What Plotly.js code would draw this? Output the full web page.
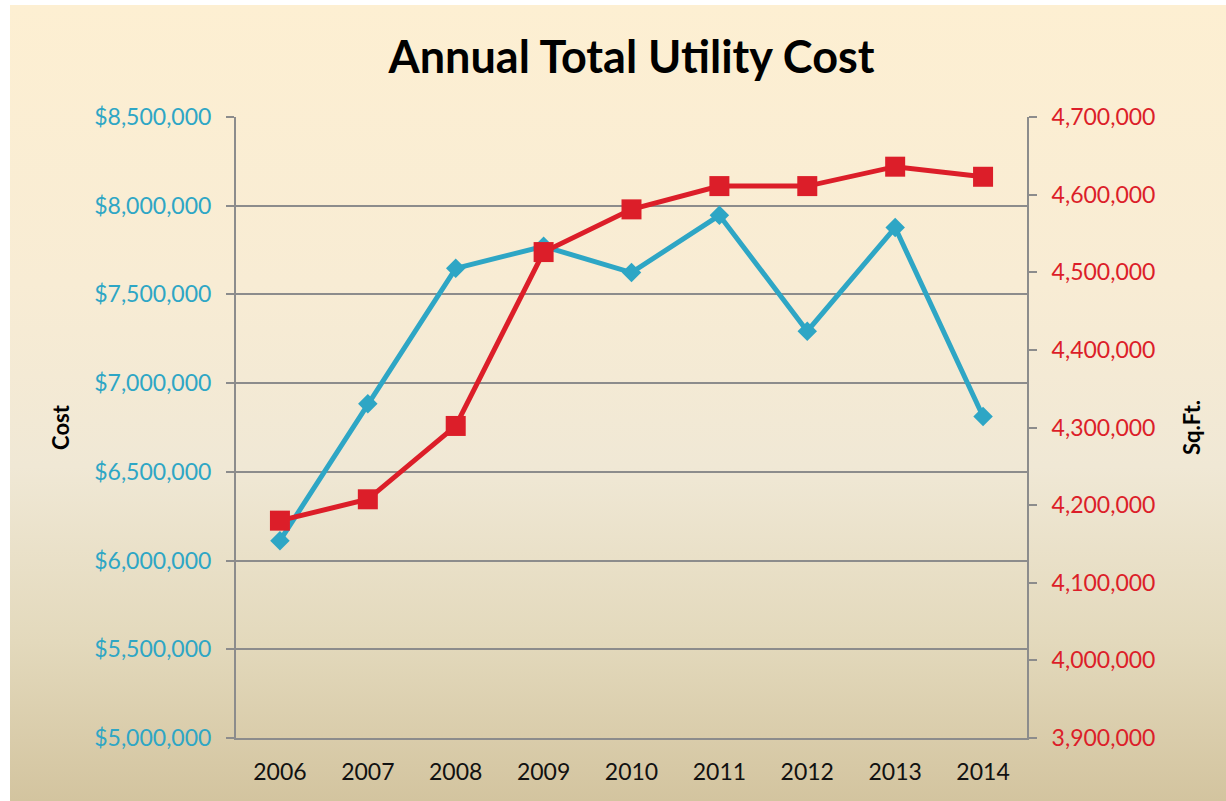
<!DOCTYPE html>
<html>
<head>
<meta charset="utf-8">
<script src="https://cdn.plot.ly/plotly-3.0.1.min.js"></script>
<style>
  html, body { margin: 0; padding: 0; background: #ffffff; }
  #bg { position: absolute; left: 10px; top: 5px; width: 1216px; height: 796px;
        background: linear-gradient(to bottom, #fdefd2 0%, #f8ecd4 35%, #f0e8d5 58%, #e3d9bc 80%, #d3c49f 100%); }
  #chart { position: absolute; left: 0; top: 0; width: 1226px; height: 801px; }
</style>
</head>
<body>
<div id="bg"></div>
<div id="chart"></div>
<script>
const years = ['2006', '2007', '2008', '2009', '2010', '2011', '2012', '2013', '2014'];
const costValues = [6112000, 6884000, 7647000, 7771000, 7623000, 7946000, 7293000, 7877000, 6812000];
const sqftValues = [4180000, 4207500, 4302000, 4526000, 4581000, 4611000, 4611000, 4636000, 4623000];
const costTicks = [5000000, 5500000, 6000000, 6500000, 7000000, 7500000, 8000000, 8500000];
const costTickLabels = ['$5,000,000', '$5,500,000', '$6,000,000', '$6,500,000', '$7,000,000', '$7,500,000', '$8,000,000', '$8,500,000'];
const sqftTicks = [3900000, 4000000, 4100000, 4200000, 4300000, 4400000, 4500000, 4600000, 4700000];
const sqftTickLabels = ['3,900,000', '4,000,000', '4,100,000', '4,200,000', '4,300,000', '4,400,000', '4,500,000', '4,600,000', '4,700,000'];

const blue = '#2ea6c5';
const red = '#dc1e29';
const gray = '#8c8c8c';
const fontFam = 'Lato, "Open Sans", sans-serif';

const traces = [
  {
    x: years, y: costValues, name: 'Cost', type: 'scatter', mode: 'lines+markers',
    line: { color: blue, width: 5 },
    marker: { symbol: 'diamond', size: 15, color: blue },
    yaxis: 'y', cliponaxis: false
  },
  {
    x: years, y: sqftValues, name: 'Sq.Ft.', type: 'scatter', mode: 'lines+markers',
    line: { color: red, width: 5 },
    marker: { symbol: 'square', size: 20, color: red },
    yaxis: 'y2', cliponaxis: false
  }
];

const layout = {
  width: 1226, height: 801,
  paper_bgcolor: 'rgba(0,0,0,0)',
  plot_bgcolor: 'rgba(0,0,0,0)',
  margin: { l: 236, r: 199, t: 117, b: 63 },
  showlegend: false,
  title: {
    text: '<b>Annual Total Utility Cost</b>',
    font: { family: fontFam, size: 45, color: '#000000' },
    x: 0.5, xref: 'paper', y: 0.928, yref: 'container', yanchor: 'middle'
  },
  xaxis: {
    type: 'category', range: [-0.5, 8.5],
    showgrid: false, zeroline: false,
    showline: true, linecolor: gray, linewidth: 2,
    ticks: '', tickfont: { family: fontFam, size: 23, color: '#111111' },
    ticklabelstandoff: 12
  },
  yaxis: {
    range: [5000000, 8500000],
    tickvals: costTicks, ticktext: costTickLabels,
    showgrid: true, gridcolor: gray, gridwidth: 2, zeroline: false,
    showline: true, linecolor: gray, linewidth: 2,
    ticks: 'outside', ticklen: 8, tickcolor: gray, tickwidth: 2,
    tickfont: { family: fontFam, size: 23, color: blue },
    ticklabelstandoff: 10,
    title: { text: '<b>Cost</b>', font: { family: fontFam, size: 22, color: '#000000' }, standoff: 19 }
  },
  yaxis2: {
    overlaying: 'y', side: 'right',
    range: [3900000, 4700000],
    tickvals: sqftTicks, ticktext: sqftTickLabels,
    showgrid: false, zeroline: false,
    showline: true, linecolor: gray, linewidth: 2,
    ticks: 'outside', ticklen: 8, tickcolor: gray, tickwidth: 2,
    tickfont: { family: fontFam, size: 23, color: red },
    ticklabelstandoff: 10,
    title: { text: '<b>Sq.Ft.</b>', font: { family: fontFam, size: 22, color: '#000000' }, standoff: 30 }
  }
};

Plotly.newPlot('chart', traces, layout, { displayModeBar: false, staticPlot: true });
</script>
</body>
</html>
